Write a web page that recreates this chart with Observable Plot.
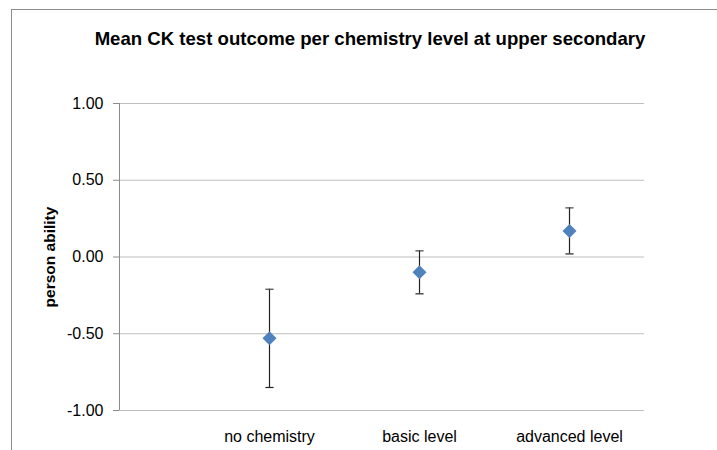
<!DOCTYPE html>
<html>
<head>
<meta charset="utf-8">
<script src="https://cdn.jsdelivr.net/npm/d3@7"></script>
<script src="https://cdn.jsdelivr.net/npm/@observablehq/plot@0.6"></script>
<style>
  html, body { margin: 0; padding: 0; background: #fff; overflow: hidden; }
  #wrap { position: relative; width: 717px; height: 450px; }
  #border { position: absolute; left: 11px; top: 9px; width: 900px; height: 900px;
            border: 1.5px solid #8c8c8c; pointer-events: none; }
</style>
</head>
<body>
<div id="wrap"><div id="border"></div></div>
<script>
const title = "Mean CK test outcome per chemistry level at upper secondary";
const yLabel = "person ability";
const categories = ["no chemistry", "basic level", "advanced level"];
const means = [-0.53, -0.10, 0.17];
const lower = [-0.85, -0.24, 0.02];
const upper = [-0.21, 0.04, 0.32];
const yTicks = [-1, -0.5, 0, 0.5, 1];

const data = categories.map((c, i) => ({
  cat: c, pos: i + 1, mean: means[i], lo: lower[i], hi: upper[i]
}));

const cap = {
  draw(context, size) {
    const w = Math.sqrt(size) / 2;
    context.moveTo(-w, 0);
    context.lineTo(w, 0);
  }
};

const font = "Liberation Sans, Arial, sans-serif";

const chart = Plot.plot({
  width: 717,
  height: 450,
  marginLeft: 119,
  marginRight: 73,
  marginTop: 103,
  marginBottom: 40,
  style: { fontFamily: font, fontSize: "14px", color: "#000", background: "transparent" },
  x: { domain: [0, 3.5], axis: null },
  y: { domain: [-1, 1], axis: null },
  marks: [
    Plot.gridY(yTicks, { stroke: "#bfbfbf", strokeOpacity: 1, strokeWidth: 1 }),
    Plot.ruleX([0], { stroke: "#8c8c8c", strokeWidth: 1 }),
    Plot.axisY(yTicks, {
      tickSize: 6, tickPadding: 10, stroke: "#8c8c8c", strokeOpacity: 1,
      tickFormat: d => d.toFixed(2).replace("-0.00", "0.00"),
      fontSize: 16, fill: "#000", label: null
    }),
    Plot.axisX(data.map(d => d.pos), {
      tickSize: 0, tickPadding: 20, fontSize: 16, fill: "#000",
      tickFormat: p => categories[p - 1], label: null
    }),
    Plot.ruleX(data, { x: "pos", y1: "lo", y2: "hi", stroke: "#222", strokeWidth: 1.2 }),
    Plot.dot(data, { x: "pos", y: "lo", symbol: cap, r: 4.6, stroke: "#222", strokeWidth: 1.2 }),
    Plot.dot(data, { x: "pos", y: "hi", symbol: cap, r: 4.6, stroke: "#444", strokeWidth: 1.2 }),
    Plot.dot(data, { x: "pos", y: "mean", symbol: "diamond2", r: 6.3, fill: "#4f81bd", stroke: "none" }),
    Plot.text([yLabel], { frameAnchor: "left", textAnchor: "middle", dx: -69, rotate: -90, fontWeight: "bold", fontSize: 15.5, fill: "#000" }),
    Plot.text([title], { frameAnchor: "top", dy: -72, dx: -12, fontWeight: "bold", fontSize: 18.6, fill: "#000" })
  ]
});

document.getElementById("wrap").prepend(chart);
</script>
</body>
</html>
